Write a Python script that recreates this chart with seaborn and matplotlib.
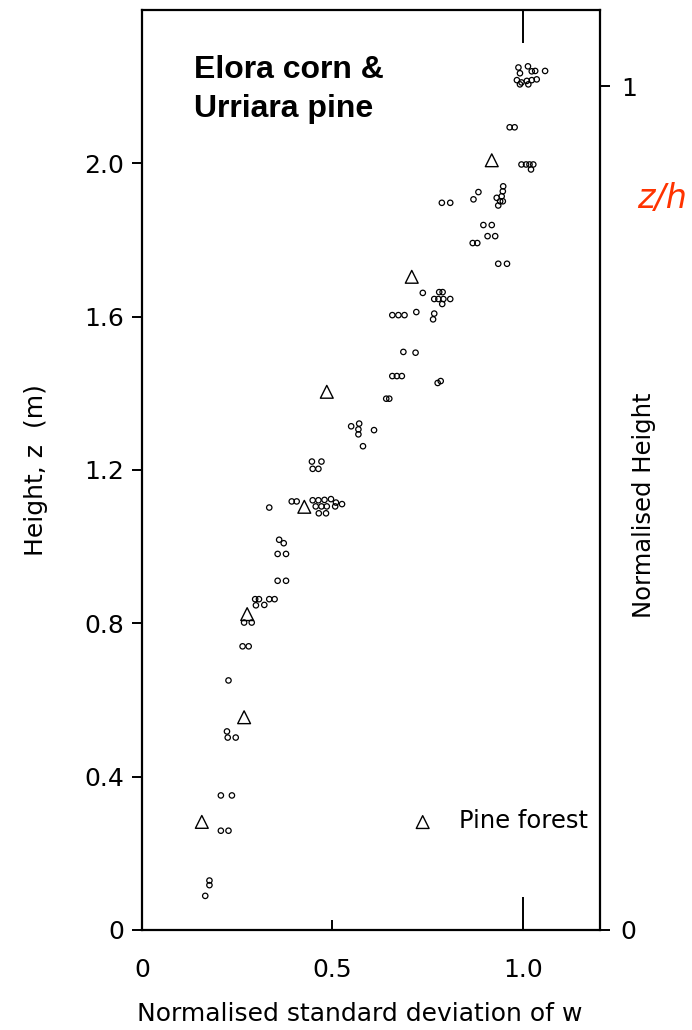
import matplotlib
matplotlib.use("Agg")
import matplotlib.pyplot as plt
import seaborn as sns
from matplotlib.ticker import FixedLocator

# ---- data ----
corn_x = [0.988, 1.013, 1.032, 1.058, 0.992, 1.023, 0.984, 0.996, 1.010, 1.023, 1.036, 0.992, 1.014,
          0.965, 0.978,
          0.996, 1.008, 1.017, 1.027, 1.021,
          0.787, 0.809, 0.870, 0.883,
          0.948, 0.947, 0.944, 0.931, 0.940, 0.935, 0.947,
          0.896, 0.918, 0.907, 0.927, 0.868, 0.880, 0.935, 0.958,
          0.737, 0.780, 0.789, 0.767, 0.778, 0.791, 0.809, 0.788,
          0.657, 0.673, 0.689, 0.720, 0.767, 0.764,
          0.686, 0.718,
          0.657, 0.669, 0.682, 0.776, 0.784,
          0.641, 0.649,
          0.549, 0.570, 0.568, 0.568, 0.609, 0.580,
          0.446, 0.471, 0.448, 0.463,
          0.334, 0.393, 0.406,
          0.448, 0.463, 0.479, 0.496, 0.509, 0.525, 0.456, 0.471, 0.485, 0.507, 0.464, 0.483,
          0.360, 0.372, 0.356, 0.378, 0.356, 0.378,
          0.297, 0.307, 0.334, 0.348, 0.299, 0.321,
          0.268, 0.288, 0.264, 0.280,
          0.227,
          0.223, 0.225, 0.246,
          0.207, 0.236,
          0.207, 0.227,
          0.177, 0.177, 0.166]
corn_z = [2.250, 2.253, 2.241, 2.241, 2.235, 2.240, 2.217, 2.211, 2.215, 2.217, 2.219, 2.206, 2.206,
          2.094, 2.094,
          1.997, 1.997, 1.997, 1.997, 1.984,
          1.897, 1.897, 1.906, 1.925,
          1.940, 1.927, 1.914, 1.910, 1.901, 1.890, 1.901,
          1.839, 1.839, 1.810, 1.810, 1.792, 1.792, 1.738, 1.738,
          1.662, 1.664, 1.664, 1.646, 1.646, 1.646, 1.646, 1.633,
          1.604, 1.604, 1.604, 1.612, 1.608, 1.593,
          1.508, 1.506,
          1.445, 1.445, 1.445, 1.427, 1.432,
          1.386, 1.386,
          1.314, 1.321, 1.306, 1.293, 1.304, 1.262,
          1.222, 1.222, 1.203, 1.203,
          1.102, 1.118, 1.118,
          1.121, 1.121, 1.122, 1.124, 1.115, 1.111, 1.105, 1.105, 1.105, 1.105, 1.087, 1.087,
          1.018, 1.009, 0.981, 0.981, 0.911, 0.911,
          0.863, 0.863, 0.863, 0.863, 0.847, 0.848,
          0.802, 0.802, 0.740, 0.740,
          0.651,
          0.518, 0.502, 0.502,
          0.351, 0.351,
          0.259, 0.259,
          0.129, 0.117, 0.089]

pine_x = [0.157, 0.268, 0.276, 0.426, 0.485, 0.708, 0.918]
pine_z = [0.282, 0.555, 0.824, 1.104, 1.404, 1.704, 2.008]

x_ticks = [0, 0.5, 1.0]
x_tick_labels = ["0", "0.5", "1.0"]
y_ticks = [0, 0.4, 0.8, 1.2, 1.6, 2.0]
y_tick_labels = ["0", "0.4", "0.8", "1.2", "1.6", "2.0"]
canopy_height = 2.201          # z at which z/h = 1
norm_ticks = [0, 1]
norm_tick_labels = ["0", "1"]

title_lines = ["Elora corn &", "Urriara pine"]
legend_label = "Pine forest"

# ---- style ----
sns.set_style("ticks")
plt.rcParams["font.family"] = ["DejaVu Sans"]
for key in ["text.color", "axes.labelcolor", "xtick.color", "ytick.color",
            "axes.edgecolor"]:
    plt.rcParams[key] = "black"

fig = plt.figure(figsize=(6.92, 10.30), dpi=100)
ax = fig.add_axes([0.2052, 0.0971, 0.6618, 0.8932])

sns.scatterplot(x=corn_x, y=corn_z, ax=ax, marker="o", s=15,
                color="black", linewidth=0.9, legend=False)
sns.scatterplot(x=pine_x, y=pine_z, ax=ax, marker="^", s=85,
                color="black", linewidth=1.0, label=legend_label)
for coll in ax.collections:
    coll.set_facecolor("none")
    coll.set_edgecolor("black")

ax.set_xlim(0, 1.202)
ax.set_ylim(0, 2.40)

for sp in ax.spines.values():
    sp.set_linewidth(1.6)
    sp.set_color("black")
    sp.set_visible(True)

ax.set_xticks(x_ticks)
ax.set_xticklabels(x_tick_labels)
ax.set_yticks(y_ticks)
ax.set_yticklabels(y_tick_labels)
ax.tick_params(axis="x", which="major", direction="in", length=7, width=1.4,
               bottom=True, top=False, labelsize=18, pad=20)
ax.xaxis.remove_overlapping_locs = False
ax.xaxis.set_minor_locator(FixedLocator([1.0]))
ax.tick_params(axis="x", which="minor", direction="in", length=24, width=1.4,
               bottom=True, top=True)
ax.tick_params(axis="y", which="major", direction="out", length=7, width=1.4,
               left=True, right=False, labelsize=18, pad=6)
ax.tick_params(axis="y", which="minor", left=False, right=False)

ax.set_xlabel("Normalised standard deviation of w", fontsize=18)
ax.xaxis.set_label_coords(0.476, -0.078)
ax.set_ylabel("Height, z  (m)", fontsize=18)
ax.yaxis.set_label_coords(-0.205, 0.5)

# right normalised-height axis
ax2 = ax.twinx()
ax2.set_ylim(0, 2.40 / canopy_height)
ax2.set_yticks(norm_ticks)
ax2.set_yticklabels(norm_tick_labels)
ax2.tick_params(axis="y", direction="out", length=7, width=1.4, labelsize=18, pad=8)
for sp in ax2.spines.values():
    sp.set_visible(False)
ax2.set_ylabel("Normalised Height", fontsize=17.5)
ax2.yaxis.set_label_coords(1.07, 0.462)

# title block
ax.text(0.1135, 0.926, title_lines[0], transform=ax.transAxes, fontsize=23,
        fontweight="bold", family="Liberation Sans", va="baseline", ha="left")
ax.text(0.1135, 0.884, title_lines[1], transform=ax.transAxes, fontsize=23,
        fontweight="bold", family="Liberation Sans", va="baseline", ha="left")

# legend
leg = ax.legend(loc="center left", bbox_to_anchor=(0.589, 0.118), frameon=False,
                fontsize=17.5, handlelength=0.9, handletextpad=1.05, borderpad=0,
                borderaxespad=0, markerscale=1.0)
for h in leg.legend_handles:
    h.set_facecolor("none")
    h.set_edgecolor("black")

fig.text(0.957, 0.807, "z/h", color="#ff3300", fontsize=24, style="italic",
         ha="center", va="center")

fig.savefig("out.png", dpi=100)
